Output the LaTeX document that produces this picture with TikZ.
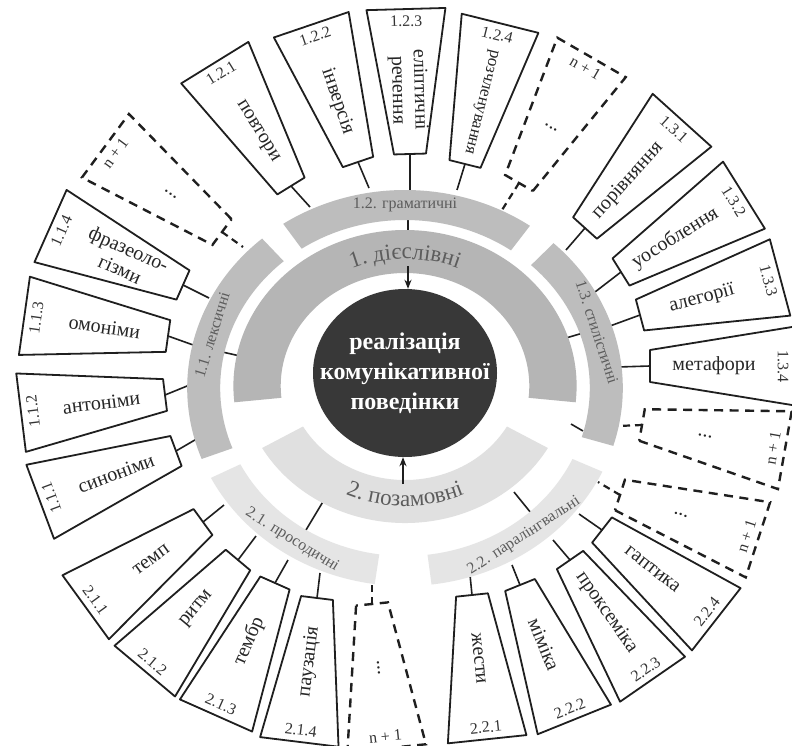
\documentclass[tikz,border=0pt]{standalone}
\usepackage{fontspec}
\setmainfont{Liberation Serif}
\usetikzlibrary{decorations.text,arrows.meta,shapes.geometric}
\definecolor{ringone}{gray}{0.71}
\definecolor{ringtwo}{gray}{0.88}
\definecolor{lvone}{gray}{0.74}
\definecolor{lvtwo}{gray}{0.90}
\definecolor{corefill}{gray}{0.22}
\definecolor{lbl}{gray}{0.36}
\tikzset{
  boxline/.style={draw=black!88,line width=1.8pt,fill=white,line join=round},
  dashbox/.style={draw=black!88,line width=2.4pt,dash pattern=on 9pt off 6.5pt},
  stem/.style={draw=black!88,line width=1.6pt},
  dstem/.style={draw=black!88,line width=2.2pt,dash pattern=on 7pt off 5pt},
  maintxt/.style={font=\fontsize{20}{22}\selectfont,text=black!85,inner sep=0pt,align=center},
  numtxt/.style={font=\fontsize{16}{16}\selectfont,text=black!80,inner sep=0pt},
  bandlbl/.style={font=\fontsize{16}{16}\selectfont,text=lbl,inner sep=0pt},
  tip/.style={-{Stealth[length=9pt,width=7pt]},line width=1.6pt,draw=black!88},
}
% annular elliptic sector: cx, cy (px, down), r-in, r-out, a1, a2, colour
\newcommand{\bandsec}[7]{%
  \pgfmathsetlengthmacro{\rxo}{1.1*#4}%
  \pgfmathsetlengthmacro{\rxi}{1.1*#3}%
  \fill[#7,shift={(#1,-#2)}] (#5:{\rxo} and {#4pt})
    arc[start angle=#5,end angle=#6,x radius=\rxo,y radius=#4pt]
    -- (#6:{\rxi} and {#3pt})
    arc[start angle=#6,end angle=#5,x radius=\rxi,y radius=#3pt] -- cycle;}
% text on an arc: cx, cy, r, a1, a2, size, colour, text
\newcommand{\arctext}[8]{%
  \pgfmathsetlengthmacro{\rxt}{1.1*#3}%
  \path[shift={(#1,-#2)},decorate,decoration={text along path,text align=center,
    text={|\fontsize{#6}{#6}\selectfont\color{#7}|#8}}]
    (#4:{\rxt} and {#3pt}) arc[start angle=#4,end angle=#5,x radius=\rxt,y radius=#3pt];}
% trapezoid box: name, px, py, angle, main rot, number rot, main text, number, style
\newcommand{\tbox}[9]{%
  \coordinate (#1) at (#2,-#3);
  \begin{scope}[shift={(#2,-#3)},rotate=#4]
    \path[#9] (0,-16) -- (145,-39.5) -- (145,39.5) -- (0,16) -- cycle;
    \node[maintxt,rotate=#5] (#1-t) at (64,0) {#7};
    \node[numtxt,rotate=#6] (#1-n) at (133,0) {#8};
  \end{scope}}
\begin{document}
\begin{tikzpicture}[x=1pt,y=1pt]
\useasboundingbox (0,0) rectangle (792,-746);
\fill[white] (0,0) rectangle (792,-746);

% stem end points on the bands
\coordinate (s111) at (200,-437);
\coordinate (s112) at (192,-384);
\coordinate (s113) at (196,-346);
\coordinate (s114) at (209,-298);
\coordinate (sTL) at (243,-247);
\coordinate (s121) at (310,-207);
\coordinate (s122) at (369,-188);
\coordinate (s123) at (410,-190);
\coordinate (s124) at (457,-190);
\coordinate (sTR) at (502,-210);
\coordinate (s131) at (566,-250);
\coordinate (s132) at (595,-292);
\coordinate (s133) at (610,-326);
\coordinate (s134) at (618,-367);
\coordinate (sA) at (618,-426);
\coordinate (sB) at (598,-482);
\coordinate (s224) at (579,-514);
\coordinate (s223) at (553,-540);
\coordinate (s222) at (512,-565);
\coordinate (s221) at (470,-575);
\coordinate (sBot) at (372,-578);
\coordinate (s214) at (320,-573);
\coordinate (s213) at (288,-560);
\coordinate (s212) at (256,-536);
\coordinate (s211) at (224,-505);

% level connectors
\coordinate (kT1) at (408,-234); \coordinate (kT2) at (408,-214);
\coordinate (kL1) at (240,-356); \coordinate (kL2) at (218,-351);
\coordinate (kR1) at (566,-338); \coordinate (kR2) at (583,-333);
\coordinate (kBL1) at (324,-500); \coordinate (kBL2) at (303,-535);
\coordinate (kBR1) at (514,-492); \coordinate (kBR2) at (531,-513);
\coordinate (kD1) at (571,-424); \coordinate (kD2) at (583,-431);
\draw[stem] (kT1) -- (kT2);
\draw[stem] (kL1) -- (kL2);
\draw[stem] (kR1) -- (kR2);
\draw[stem] (kBL1) -- (kBL2);
\draw[stem] (kBR1) -- (kBR2);
\draw[stem] (kD1) -- (kD2);

% boxes
\tbox{b111}{176}{451}{200.5}{20.5}{110.5}{синоніми}{1.1.1}{boxline}
\tbox{b112}{165}{395}{187}{7}{97}{антоніми}{1.1.2}{boxline}
\tbox{b113}{168}{336}{172}{-8}{82}{омоніми}{1.1.3}{boxline}
\tbox{b114}{183}{285}{156}{-24}{66}{фразеоло-\\гізми}{1.1.4}{boxline}
\tbox{bTL}{222}{232}{143.5}{-36.5}{53.5}{...}{n + 1}{dashbox}
\tbox{b121}{291}{186}{121.7}{-58.3}{31.7}{повтори}{1.2.1}{boxline}
\tbox{b122}{358}{162}{108.8}{-71.2}{18.8}{інверсія}{1.2.2}{boxline}
\tbox{b123}{410}{154}{91.6}{-88.4}{1.6}{еліптичні\\речення}{1.2.3}{boxline}
\tbox{b124}{465}{164}{76}{-104}{-14}{{\fontsize{17}{17}\selectfont розчленування}}{1.2.4}{boxline}
\tbox{bTR}{519}{183}{60}{-30}{-30}{...}{n + 1}{dashbox}
\tbox{b131}{585}{228}{48}{48}{-42}{порівняння}{1.3.1}{boxline}
\tbox{b132}{621}{272}{32}{32}{-58}{уособлення}{1.3.2}{boxline}
\tbox{b133}{640}{315}{15}{15}{-75}{алегорії}{1.3.3}{boxline}
\tbox{b134}{650}{366}{0}{0}{-90}{метафори}{1.3.4}{boxline}
\tbox{bA}{642}{425}{350}{-10}{80}{...}{n + 1}{dashbox}
\tbox{bB}{620}{495}{342}{-18}{72}{...}{n + 1}{dashbox}
\tbox{b224}{602}{530}{322}{-38}{52}{гаптика}{2.2.4}{boxline}
\tbox{b223}{570}{560}{304.7}{-55.3}{34.7}{проксеміка}{2.2.3}{boxline}
\tbox{b222}{520}{585}{292}{-68}{22}{міміка}{2.2.2}{boxline}
\tbox{b221}{472}{595}{276}{-84}{6}{жести}{2.2.1}{boxline}
\tbox{bBot}{372}{604}{275.8}{-84}{5.8}{...}{n + 1}{dashbox}
\tbox{b214}{317}{598}{263}{83}{-7}{паузація}{2.1.4}{boxline}
\tbox{b213}{275}{583}{246}{66}{-24}{тембр}{2.1.3}{boxline}
\tbox{b212}{238}{560}{230}{50}{-40}{ритм}{2.1.2}{boxline}
\tbox{b211}{203}{522}{216}{36}{-54}{темп}{2.1.1}{boxline}

\foreach \n in {111,112,113,114,121,122,123,124,131,132,133,134,224,223,222,221,214,213,212,211}
  \draw[stem] (b\n) -- (s\n);
\foreach \n in {TL,TR,A,B,Bot}
  \draw[dstem] (b\n) -- (s\n);

% rings and bands
\bandsec{405}{386}{113}{156}{-6}{186}{ringone}
\bandsec{405}{373}{107}{150}{210}{330}{ringtwo}
\bandsec{405}{388}{168}{198}{55}{124}{lvone}
\bandsec{405}{388}{168}{198}{131}{201}{lvone}
\bandsec{405}{388}{168}{198}{-17}{47}{lvone}
\bandsec{405}{388}{168}{198}{207}{262}{lvtwo}
\bandsec{405}{388}{168}{198}{277}{335}{lvtwo}

% ring labels (curved)
\arctext{405}{386}{127}{150}{30}{23}{lbl}{1. дієслівні}
\arctext{405}{373}{133}{225}{315}{23}{lbl}{2. позамовні}
% band labels
\node[bandlbl] (l12) at (405,-205) {1.2. граматичні};
\node[bandlbl,rotate=73] (l11) at (212,-335) {1.1. лексичні};
\node[bandlbl,rotate=-72] (l13) at (597,-332) {1.3. стилістичні};
\node[bandlbl,rotate=-32] (l21) at (292,-540) {2.1. просодичні};
\node[bandlbl,rotate=33] (l22) at (524,-536) {2.2. паралінгвальні};

% centre
\node[ellipse,fill=corefill,minimum width=184pt,minimum height=168pt,inner sep=0pt] (core) at (405,-373) {};
\node[text=white,font=\fontsize{24}{30}\selectfont\bfseries,align=center,inner sep=0pt] (coretxt) at (core.center) {реалізація\\комунікативної\\поведінки};
\coordinate (aT) at (408,-266);
\coordinate (aB) at (403,-484);
\draw[tip] (aT) -- (aT |- core.north);
\draw[tip] (aB) -- (aB |- core.south);
\end{tikzpicture}
\end{document}
